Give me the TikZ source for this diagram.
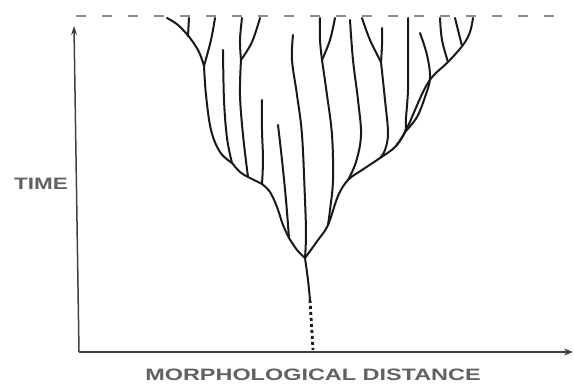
\documentclass[tikz,border=0pt]{standalone}
\usepackage{fontspec}
\setmainfont{Liberation Sans}
\usetikzlibrary{arrows.meta}
\begin{document}
\begin{tikzpicture}[x=1pt,y=-1pt,
  branch/.style={line width=2pt, line cap=round, line join=round, black!90},
  axisline/.style={line width=1.5pt, draw=black!75},
  lbl/.style={text=black!62, font=\fontsize{16.5}{16.5}\selectfont\bfseries, inner sep=0pt},
  sm/.style={smooth, tension=0.6}]
\useasboundingbox (0,0) rectangle (574,385);
% axes
\coordinate (O) at (79,352);
\coordinate (Ytop) at (74,26);
\coordinate (Xend) at (573,352);
\draw[axisline,-{Stealth[length=9pt,width=6pt]}] (O) -- (Ytop);
\draw[axisline,-{Stealth[length=9pt,width=7pt,inset=3pt]}] (O) -- (Xend);
% time horizon
\coordinate (D0) at (76,16);
\coordinate (D1) at (556,16);
\draw[black!45, line width=1.6pt, dash pattern=on 10pt off 16pt] (D0) -- (D1);
% junctions
\coordinate (J0) at (305,258);
\coordinate (S1) at (310,300);
\coordinate (S2) at (313,350);
\coordinate (J1) at (204,66);
\coordinate (J2) at (232,163);
\coordinate (J3) at (248,177);
\coordinate (JD) at (241,60);
\coordinate (J4) at (262,184);
\coordinate (J5) at (289,238);
\coordinate (JH) at (322,60);
\coordinate (J6) at (328,225);
\coordinate (J7) at (348,180);
\coordinate (JM) at (381,62);
\coordinate (J8) at (380,158);
\coordinate (JL) at (405,132);
\coordinate (J9) at (396,146);
% stem
\draw[branch] plot[sm] coordinates {(J0) (308,280) (S1)};
\draw[branch, line width=2.8pt, line cap=butt, dash pattern=on 3pt off 3pt] (S1) -- (S2);
% left clade
\draw[branch] plot[sm] coordinates {(167,18) (178,25) (190,38) (199,52) (J1)};
\draw[branch] plot[sm] coordinates {(189,18) (188,36)};
\draw[branch] plot[sm] coordinates {(215,18) (211,40) (J1)};
\draw[branch] plot[sm] coordinates {(J1) (206,95) (211,130) (220,152) (J2)};
\draw[branch] plot[sm] coordinates {(223,50) (224,100) (227,138) (J2)};
\draw[branch] plot[sm] coordinates {(J2) (240,172) (J3)};
\draw[branch] plot[sm] coordinates {(242,18) (240,40) (JD)};
\draw[branch] plot[sm] coordinates {(260,18) (252,42) (JD)};
\draw[branch] plot[sm] coordinates {(JD) (240,95) (243,135) (J3)};
\draw[branch] plot[sm] coordinates {(J3) (J4)};
\draw[branch] plot[sm] coordinates {(262,100) (262,130) (263,160) (J4)};
\draw[branch] plot[sm] coordinates {(J4) (270,192) (277,207) (283,225) (J5)};
\draw[branch] plot[sm] coordinates {(278,125) (282,160) (286,200) (J5)};
\draw[branch] plot[sm] coordinates {(J5) (297,250) (J0)};
% centre
\draw[branch] plot[sm] coordinates {(293,35) (292,60) (297,95) (302,135) (305,200) (306,235) (J0)};
% right clade
\draw[branch] plot[sm] coordinates {(320,18) (320,40) (JH)};
\draw[branch] plot[sm] coordinates {(335,18) (330,40) (JH)};
\draw[branch] plot[sm] coordinates {(JH) (327,95) (332,135) (333,180) (330,210) (J6)};
\draw[branch] plot[sm] coordinates {(350,20) (353,60) (358,100) (361,135) (356,162) (J7)};
\draw[branch] plot[sm] coordinates {(362,18) (370,40) (JM)};
\draw[branch] plot[sm] coordinates {(382,28) (382,45) (JM)};
\draw[branch] plot[sm] coordinates {(JM) (385,100) (388,133) (385,150) (J8)};
\draw[branch] plot[sm] coordinates {(473,18) (470,32) (463,45) (448,62) (433,76) (424,90) (415,110) (407,128) (J9) (J8) (362,170) (J7) (338,196) (J6) (318,240) (J0)};
\draw[branch] plot[sm] coordinates {(455,18) (458,30) (462,46)};
\draw[branch] plot[sm] coordinates {(440,18) (442,40) (448,62)};
\draw[branch] plot[sm] coordinates {(420,33) (427,55) (430,78) (425,97) (417,117) (JL)};
\draw[branch] plot[sm] coordinates {(408,18) (408,60) (408,90) (406,118) (JL) (J9)};
% labels
\node[lbl] (time) at (41,184) {\scalebox{1.36}[1]{TIME}};
\node[lbl] (xlab) at (313,375) {\scalebox{1.42}[1]{MORPHOLOGICAL DISTANCE}};
\end{tikzpicture}
\end{document}
